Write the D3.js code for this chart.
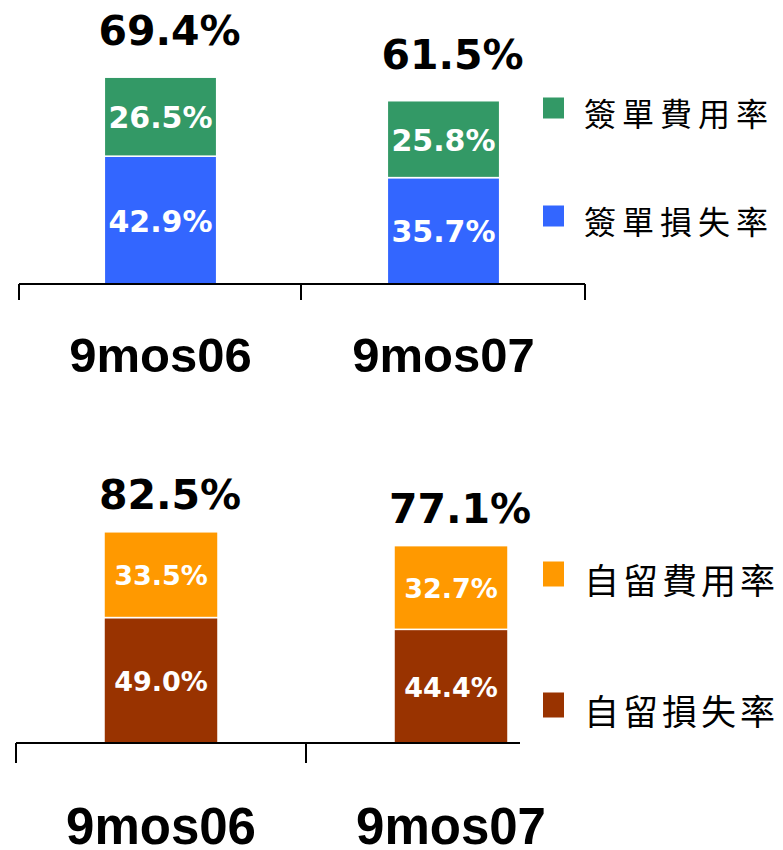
<!DOCTYPE html>
<html>
<head>
<meta charset="utf-8">
<script src="https://cdn.jsdelivr.net/npm/d3@7"></script>
<style>
  body { margin: 0; background: #fff; }
  svg { display: block; }
</style>
</head>
<body>
<div id="chart"></div>
<script>
// periods shared by both panels
const periods = ['9mos06', '9mos07'];

// panel 1: 簽單 (gross written)
const grossLoss = [42.9, 35.7];
const grossExpense = [26.5, 25.8];
const grossTotal = [69.4, 61.5];
const grossNames = ['簽單損失率', '簽單費用率'];

// panel 2: 自留 (retained)
const netLoss = [49.0, 44.4];
const netExpense = [33.5, 32.7];
const netTotal = [82.5, 77.1];
const netNames = ['自留損失率', '自留費用率'];

const svg = d3.select('#chart').append('svg')
  .attr('width', 783)
  .attr('height', 850);

function drawPanel(cfg) {
  const g = svg.append('g');

  const x = d3.scaleBand()
    .domain(periods)
    .range([cfg.x0, cfg.x1])
    .padding(0);

  const y = d3.scaleLinear()
    .domain([0, 100])
    .range([cfg.base, cfg.base - cfg.pxPer100]);

  const barW = x.bandwidth() * cfg.barFrac;
  const cx = d => x(d) + x.bandwidth() / 2;

  const rows = periods.map((p, i) => ({
    p, loss: cfg.loss[i], exp: cfg.exp[i], total: cfg.total[i]
  }));

  // loss segment (bottom)
  g.selectAll('rect.loss').data(rows).join('rect')
    .attr('class', 'loss')
    .attr('x', d => cx(d.p) - barW / 2)
    .attr('width', barW)
    .attr('y', d => y(d.loss))
    .attr('height', d => y(0) - y(d.loss))
    .attr('fill', cfg.colors[0])
    .attr('stroke', '#fff')
    .attr('stroke-width', 1.5);

  // expense segment (top)
  g.selectAll('rect.exp').data(rows).join('rect')
    .attr('class', 'exp')
    .attr('x', d => cx(d.p) - barW / 2)
    .attr('width', barW)
    .attr('y', d => y(d.loss + d.exp))
    .attr('height', d => y(d.loss) - y(d.loss + d.exp))
    .attr('fill', cfg.colors[1])
    .attr('stroke', '#fff')
    .attr('stroke-width', 1.5);

  // values inside segments
  const inner = (sel, val, mid) => sel
    .attr('x', d => cx(d.p))
    .attr('y', mid)
    .attr('text-anchor', 'middle')
    .attr('dominant-baseline', 'central')
    .style('font-family', '"DejaVu Sans", sans-serif')
    .style('font-weight', 'bold')
    .style('font-size', cfg.innerSize + 'px')
    .style('fill', '#fff')
    .text(d => val(d).toFixed(1) + '%');

  g.selectAll('text.lossv').data(rows).join('text')
    .attr('class', 'lossv')
    .call(inner, d => d.loss, d => (y(0) + y(d.loss)) / 2 + 1);

  g.selectAll('text.expv').data(rows).join('text')
    .attr('class', 'expv')
    .call(inner, d => d.exp, d => (y(d.loss) + y(d.loss + d.exp)) / 2 + 1);

  // totals above bars
  g.selectAll('text.tot').data(rows).join('text')
    .attr('class', 'tot')
    .attr('x', d => cx(d.p) + 9)
    .attr('y', d => y(d.total) - cfg.totGap)
    .attr('text-anchor', 'middle')
    .style('font-family', '"DejaVu Sans", sans-serif')
    .style('font-weight', 'bold')
    .style('font-size', '41px')
    .style('fill', '#000')
    .text(d => d.total.toFixed(1) + '%');

  // axis: baseline + ticks at band edges
  g.append('line')
    .attr('x1', cfg.x0).attr('x2', cfg.lineEnd)
    .attr('y1', cfg.base).attr('y2', cfg.base)
    .attr('stroke', '#000').attr('stroke-width', 2);

  g.selectAll('line.tick').data(cfg.tickEdges).join('line')
    .attr('class', 'tick')
    .attr('x1', d => d).attr('x2', d => d)
    .attr('y1', cfg.base).attr('y2', cfg.base + cfg.tickLen)
    .attr('stroke', '#000').attr('stroke-width', 2);

  g.selectAll('text.cat').data(periods).join('text')
    .attr('class', 'cat')
    .attr('x', d => cx(d))
    .attr('y', cfg.catY)
    .attr('text-anchor', 'middle')
    .style('font-family', '"Liberation Sans", Arial, sans-serif')
    .style('font-weight', 'bold')
    .style('font-size', cfg.catSize + 'px')
    .text(d => d);

  // legend: expense first, then loss
  const leg = [
    { name: cfg.names[1], color: cfg.colors[1], y: cfg.legY[0] },
    { name: cfg.names[0], color: cfg.colors[0], y: cfg.legY[1] }
  ];
  const lg = g.selectAll('g.leg').data(leg).join('g').attr('class', 'leg');
  lg.append('rect')
    .attr('x', 543)
    .attr('y', d => d.y - cfg.swH / 2)
    .attr('width', 21)
    .attr('height', cfg.swH)
    .attr('fill', d => d.color);
  lg.append('text')
    .attr('x', 584)
    .attr('y', d => d.y + 4)
    .attr('dominant-baseline', 'central')
    .style('font-family', '"Noto Sans CJK TC", sans-serif')
    .style('font-size', cfg.legSize + 'px')
    .style('letter-spacing', cfg.legSpace + 'px')
    .style('fill', '#000')
    .text(d => d.name);
}

drawPanel({
  loss: grossLoss, exp: grossExpense, total: grossTotal, names: grossNames,
  colors: ['#3366FF', '#339966'],
  x0: 19, x1: 585, lineEnd: 585, tickEdges: [19, 301, 585],
  base: 284, pxPer100: 298, barFrac: 0.397, tickLen: 16,
  innerSize: 30, totGap: 32, catY: 372, catSize: 49,
  legY: [108, 216], swH: 21, legSize: 32, legSpace: 6
});

drawPanel({
  loss: netLoss, exp: netExpense, total: netTotal, names: netNames,
  colors: ['#993300', '#FF9900'],
  x0: 16, x1: 596, lineEnd: 520, tickEdges: [16, 306],
  base: 743, pxPer100: 256, barFrac: 0.393, tickLen: 20,
  innerSize: 27, totGap: 23, catY: 844, catSize: 51,
  legY: [574, 705], swH: 25, legSize: 35, legSpace: 4
});
</script>
</body>
</html>
